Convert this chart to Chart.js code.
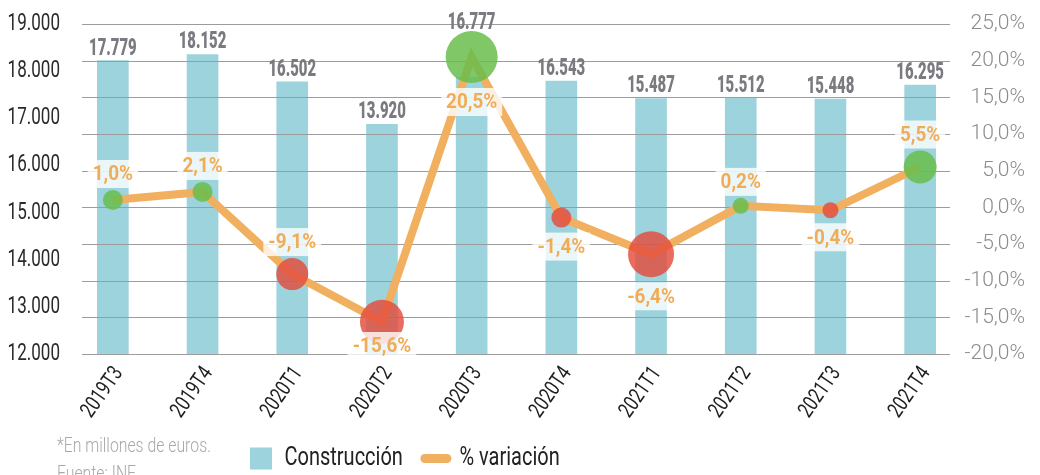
<!DOCTYPE html>
<html><head><meta charset="utf-8">
<script src="https://cdn.jsdelivr.net/npm/chart.js@4.4.1/dist/chart.umd.min.js"></script>
<style>html,body{margin:0;padding:0;background:#fff;overflow:hidden}</style>
</head><body>
<canvas id="c" width="1040" height="475" style="display:block;width:1040px;height:475px"></canvas>
<script>
const categorias = ['2019T3','2019T4','2020T1','2020T2','2020T3','2020T4','2021T1','2021T2','2021T3','2021T4'];
const construccion = [17779,18152,16502,13920,16777,16543,15487,15512,15448,16295];
const variacion = [1.0,2.1,-9.1,-15.6,20.5,-1.4,-6.4,0.2,-0.4,5.5];
const tamanoBurbuja = [10,10,16,22,26,10,23,8,8,16.5];
const ticksIzquierda = [12000,13000,14000,15000,16000,17000,18000,19000];
const ticksDerecha = [-20,-15,-10,-5,0,5,10,15,20,25];

const FF = "Roboto, 'DejaVu Sans', sans-serif";
const azul = '#9dd3dc';
const naranja = '#f0b060';
const verde = 'rgba(104,189,76,0.85)';
const rojo = 'rgba(228,76,60,0.82)';
const posEtiqueta = ['arriba','arriba','arriba','abajo','abajo','abajo','abajo','arriba','abajo','arriba'];

/* condensed rendering: horizontal compression per font (weight-size) */
const compresion = {'400-24':0.71,'400-22':0.75,'400-25':0.80,'900-24':0.62,'700-21':0.90,'300-20':0.79};
const _fill = CanvasRenderingContext2D.prototype.fillText;
const _measure = CanvasRenderingContext2D.prototype.measureText;
function factor(ctx){
  const f = ctx.font || '';
  const ms = f.match(/(\d+(?:\.\d+)?)px/); if(!ms) return 1;
  const before = f.slice(0, ms.index);
  let w = 400;
  if(/bold/.test(before)) w = 700; else { const mw = before.match(/\b([1-9]00)\b/); if(mw) w = +mw[1]; }
  const k = compresion[w+'-'+Math.round(+ms[1])];
  return k || 1;
}
CanvasRenderingContext2D.prototype.fillText = function(t,x,y,mw){
  const k = factor(this);
  if(k===1) return mw===undefined ? _fill.call(this,t,x,y) : _fill.call(this,t,x,y,mw);
  this.save(); this.translate(x,y); this.scale(k,1);
  if(mw===undefined) _fill.call(this,t,0,0); else _fill.call(this,t,0,0,mw/k);
  this.restore();
};
CanvasRenderingContext2D.prototype.measureText = function(t){
  const m = _measure.call(this,t); const k = factor(this);
  if(k===1) return m;
  return {width:m.width*k, actualBoundingBoxLeft:m.actualBoundingBoxLeft*k, actualBoundingBoxRight:m.actualBoundingBoxRight*k,
    actualBoundingBoxAscent:m.actualBoundingBoxAscent, actualBoundingBoxDescent:m.actualBoundingBoxDescent,
    fontBoundingBoxAscent:m.fontBoundingBoxAscent, fontBoundingBoxDescent:m.fontBoundingBoxDescent};
};

function fmtMiles(v){ return String(Math.round(v)).replace(/\B(?=(\d{3})+(?!\d))/g,'.'); }
function fmtPct(v){ return v.toFixed(1).replace('.',',') + '%'; }

const rejilla = {
  id:'rejilla',
  beforeDatasetDraw(chart,args){
    if(args.index!==1) return;
    const s=chart.scales.yPct, {left,right}=chart.chartArea, ctx=chart.ctx;
    ctx.save(); ctx.strokeStyle='#9c9c9c'; ctx.lineWidth=1;
    s.ticks.forEach(t=>{ const y=Math.round(s.getPixelForValue(t.value))+0.5; ctx.beginPath(); ctx.moveTo(left+14,y); ctx.lineTo(right-15,y); ctx.stroke(); });
    ctx.restore();
  }
};

const etiquetas = {
  id:'etiquetas',
  afterDatasetsDraw(chart){
    const ctx=chart.ctx;
    const barMeta=chart.getDatasetMeta(2), bubMeta=chart.getDatasetMeta(0);
    ctx.save();
    ctx.font = '900 24px '+FF; ctx.fillStyle='#7a7a80'; ctx.textAlign='center'; ctx.textBaseline='alphabetic';
    barMeta.data.forEach((bar,i)=>{
      const bub=bubMeta.data[i], r=tamanoBurbuja[i];
      const base=Math.min(bar.y-6, bub.y-r-2);
      ctx.fillText(fmtMiles(construccion[i]), bar.x, base);
    });
    ctx.font='bold 21px '+FF; ctx.textBaseline='middle';
    bubMeta.data.forEach((pt,i)=>{
      const r=tamanoBurbuja[i];
      let cy = posEtiqueta[i]==='arriba' ? pt.y-r-16 : pt.y+r+19;
      cy = Math.min(cy, chart.chartArea.bottom-8);
      const txt=fmtPct(variacion[i]); const w=ctx.measureText(txt).width;
      ctx.fillStyle='rgba(255,255,255,0.8)'; ctx.fillRect(pt.x-w/2-5, cy-14, w+10, 28);
      ctx.fillStyle='#f0ac57'; ctx.fillText(txt, pt.x, cy+1);
    });
    ctx.restore();
  },
  beforeDraw(chart){
    const lg=chart.legend; if(lg){ lg.left=228; lg.top=424; }
  },
  afterDraw(chart){
    const ctx=chart.ctx; ctx.save();
    ctx.font='300 20px '+FF; ctx.fillStyle='#a8a8a8'; ctx.textAlign='left'; ctx.textBaseline='alphabetic';
    ctx.fillText('*En millones de euros.',57,452);
    ctx.fillText('Fuente: INE',57,480);
    ctx.restore();
  }
};

new Chart(document.getElementById('c'),{
  data:{
    labels:categorias,
    datasets:[
      {type:'line',label:'burbujas',data:variacion,yAxisID:'yPct',showLine:false,pointRadius:tamanoBurbuja,pointHoverRadius:tamanoBurbuja,pointBackgroundColor:variacion.map(v=>v>=0?verde:rojo),pointBorderWidth:0,order:0,clip:false},
      {type:'line',label:'% variación',data:variacion,yAxisID:'yPct',borderColor:naranja,borderWidth:8,pointRadius:0,tension:0,order:1,clip:false,fill:false},
      {type:'bar',label:'Construcción',data:construccion,yAxisID:'yBar',backgroundColor:azul,barThickness:31,order:2}
    ]
  },
  options:{
    responsive:false, animation:false, devicePixelRatio:1,
    layout:{padding:{top:24,left:0,right:15,bottom:0}},
    plugins:{
      tooltip:{enabled:false},
      legend:{
        position:'bottom', align:'start',
        labels:{
          usePointStyle:true, pointStyleWidth:22, boxWidth:22, boxHeight:22, padding:22,
          font:{family:FF,size:25}, color:'#222',
          generateLabels:()=>[
            {text:'Construcción',fillStyle:azul,strokeStyle:azul,lineWidth:0,pointStyle:'rect',datasetIndex:2,hidden:false,fontColor:'#222'},
            {text:'% variación',fillStyle:naranja,strokeStyle:naranja,lineWidth:9,lineCap:'round',pointStyle:'line',datasetIndex:1,hidden:false,fontColor:'#222'}
          ]
        }
      }
    },
    scales:{
      x:{type:'category',offset:true,grid:{display:false,drawTicks:false},border:{display:false},
         ticks:{font:{family:FF,size:22},color:'#1e1e1e',minRotation:55,maxRotation:55,padding:8,labelOffset:6},
         afterFit:s=>{ const lh=s.chart.legend?s.chart.legend.height:0; s.height=475-lh-354; }},
      yBar:{type:'linear',display:false,min:0,max:20000},
      yIzq:{type:'linear',position:'left',min:12000,max:19000,grid:{display:false,drawTicks:false},border:{display:false},
         ticks:{font:{family:FF,size:24},color:'#2a2a2a',padding:8,callback:v=>fmtMiles(v)},
         afterBuildTicks:s=>{ s.ticks=ticksIzquierda.map(v=>({value:v})); },
         afterFit:s=>{ s.width=68; }},
      yPct:{type:'linear',position:'right',min:-20,max:25,grid:{display:false,drawTicks:false},border:{display:false},
         ticks:{font:{family:FF,size:21,weight:'300'},color:'#8c8c8c',padding:5,crossAlign:'far',callback:v=>fmtPct(v)},
         afterBuildTicks:s=>{ s.ticks=ticksDerecha.map(v=>({value:v})); },
         afterFit:s=>{ s.width=60; }}
    }
  },
  plugins:[rejilla,etiquetas]
});
</script>
</body></html>
